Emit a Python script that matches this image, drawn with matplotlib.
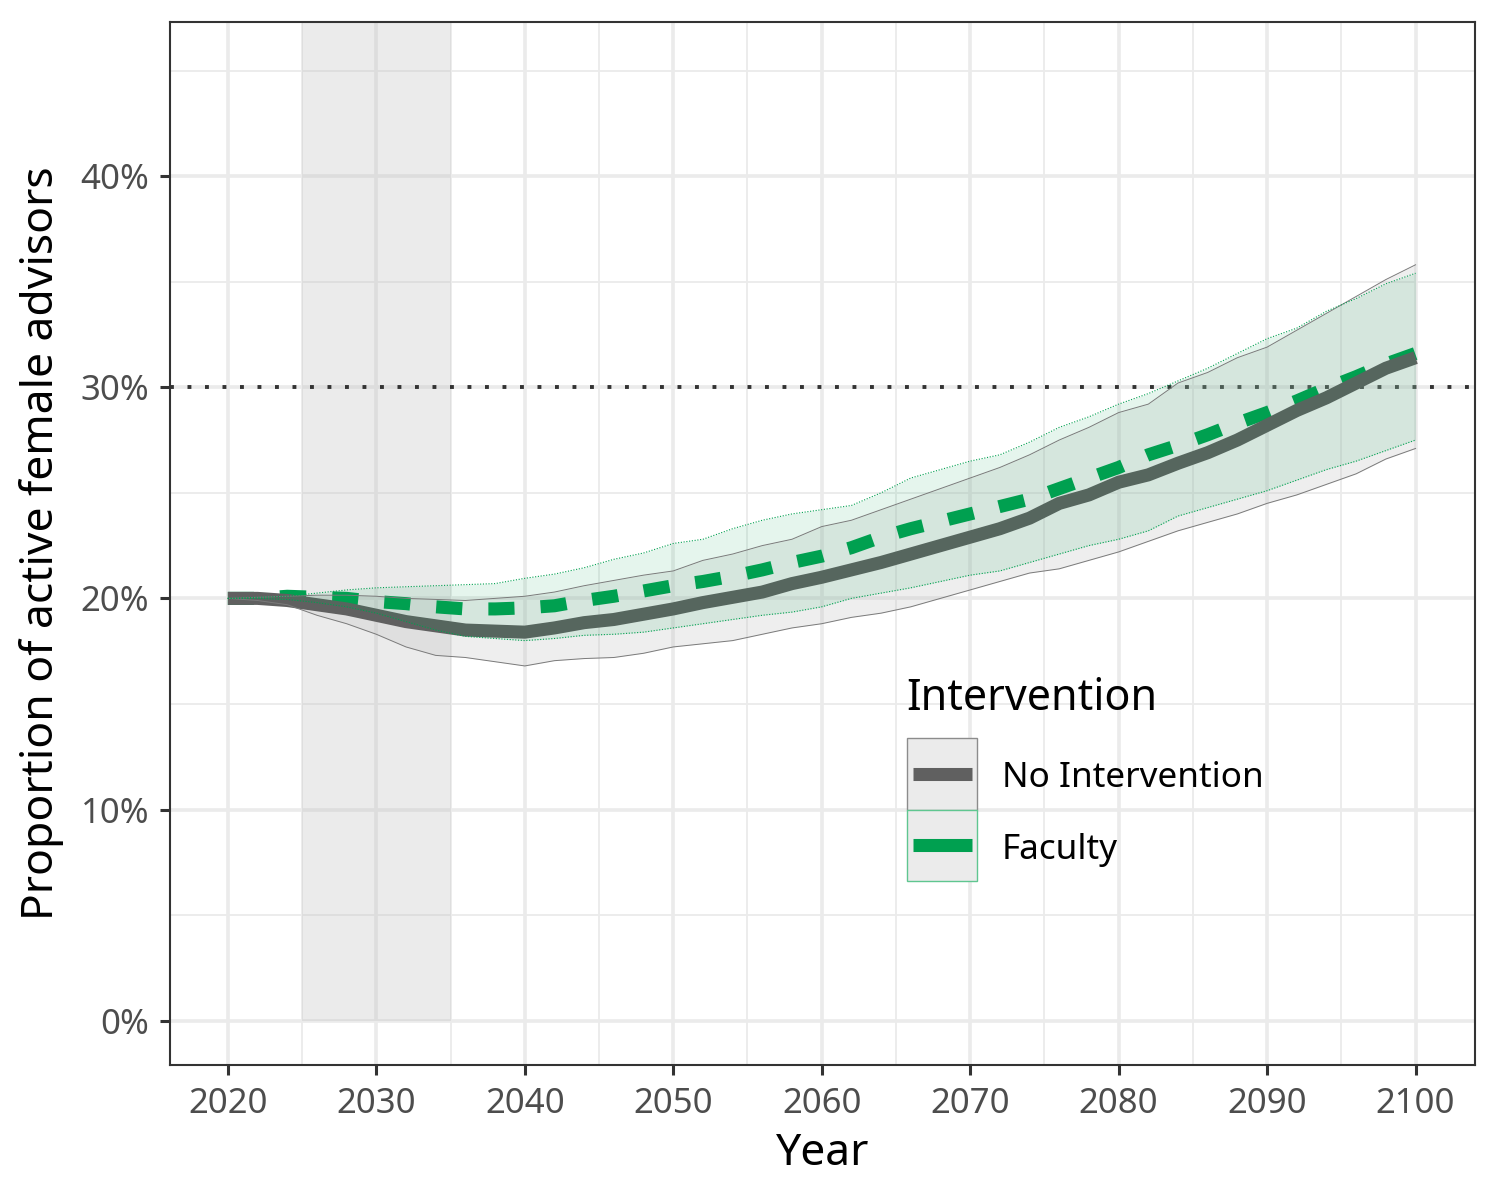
import matplotlib
matplotlib.use("Agg")
import matplotlib.pyplot as plt
from matplotlib.patches import Rectangle
from matplotlib.ticker import FuncFormatter, MultipleLocator

plt.rcParams['font.family'] = ['Noto Sans', 'DejaVu Sans']

# values, in percent, every two years
years = list(range(2020, 2101, 2))

none_mean = [20.0, 20.0, 19.9, 19.7, 19.5, 19.2, 18.9, 18.7, 18.5, 18.45, 18.4,
             18.6, 18.85, 19.0, 19.25, 19.5, 19.8, 20.05, 20.3, 20.7, 21.0,
             21.35, 21.7, 22.1, 22.5, 22.9, 23.3, 23.8, 24.5, 24.9, 25.5,
             25.85, 26.4, 26.9, 27.5, 28.2, 28.9, 29.5, 30.2, 30.9, 31.4]
none_hi = [20.0, 20.05, 20.1, 20.15, 20.15, 20.1, 20.0, 19.95, 19.9, 20.0, 20.1,
           20.3, 20.6, 20.85, 21.1, 21.3, 21.8, 22.1, 22.5, 22.8, 23.4,
           23.7, 24.2, 24.7, 25.2, 25.7, 26.2, 26.8, 27.5, 28.1, 28.8,
           29.2, 30.2, 30.7, 31.4, 31.9, 32.7, 33.5, 34.3, 35.1, 35.8]
none_lo = [20.0, 19.9, 19.7, 19.2, 18.8, 18.3, 17.7, 17.3, 17.2, 17.0, 16.8,
           17.05, 17.15, 17.2, 17.4, 17.7, 17.85, 18.0, 18.3, 18.6, 18.8,
           19.1, 19.3, 19.6, 20.0, 20.4, 20.8, 21.2, 21.4, 21.8, 22.2,
           22.7, 23.2, 23.6, 24.0, 24.5, 24.9, 25.4, 25.9, 26.6, 27.1]

fac_mean = [20.0, 20.0, 20.1, 20.05, 20.0, 19.85, 19.75, 19.6, 19.5, 19.5, 19.55,
            19.65, 19.9, 20.1, 20.35, 20.6, 20.8, 21.05, 21.35, 21.7, 22.0,
            22.4, 22.9, 23.3, 23.65, 24.0, 24.35, 24.7, 25.2, 25.7, 26.2,
            26.8, 27.25, 27.75, 28.3, 28.8, 29.35, 29.95, 30.5, 31.1, 31.6]
fac_hi = [20.0, 20.05, 20.1, 20.25, 20.4, 20.5, 20.55, 20.6, 20.65, 20.7, 20.95,
          21.15, 21.45, 21.85, 22.15, 22.6, 22.8, 23.3, 23.7, 24.0, 24.2,
          24.4, 25.0, 25.7, 26.1, 26.5, 26.8, 27.4, 28.1, 28.6, 29.2,
          29.7, 30.3, 30.9, 31.6, 32.3, 32.8, 33.6, 34.2, 34.9, 35.4]
fac_lo = [20.0, 20.0, 19.95, 19.8, 19.6, 19.3, 18.9, 18.5, 18.2, 18.1, 18.0,
          18.1, 18.25, 18.3, 18.4, 18.6, 18.8, 19.0, 19.2, 19.35, 19.6,
          20.0, 20.25, 20.5, 20.8, 21.1, 21.3, 21.7, 22.1, 22.5, 22.8,
          23.2, 23.9, 24.3, 24.7, 25.1, 25.6, 26.1, 26.5, 27.0, 27.5]

target = 30
window = (2025, 2035)
labels = ["No Intervention", "Faculty"]

grey_line = "#606060"
green = "#00a050"

fig = plt.figure(figsize=(15, 12), dpi=100)
ax = fig.add_axes([0.1133, 0.1125, 0.87, 0.8692])

ax.set_xlim(2016.1, 2104.0)
ax.set_ylim(-2.1, 47.3)

ax.xaxis.set_major_locator(MultipleLocator(10))
ax.xaxis.set_minor_locator(MultipleLocator(5))
ax.yaxis.set_major_locator(MultipleLocator(10))
ax.yaxis.set_minor_locator(MultipleLocator(5))
ax.yaxis.set_major_formatter(FuncFormatter(lambda v, p: f"{v:.0f}%"))

ax.grid(which="major", color="#ebebeb", linewidth=2.6, zorder=0)
ax.grid(which="minor", color="#ebebeb", linewidth=1.3, zorder=0)
ax.set_axisbelow(True)

ax.tick_params(which="major", length=7, width=2.2, color="#333333",
               labelsize=25, labelcolor="#4d4d4d", pad=9)
ax.tick_params(axis="y", pad=8)
ax.tick_params(which="minor", length=0)
for s in ax.spines.values():
    s.set_color("#333333")
    s.set_linewidth(1.5)

# intervention window
ax.fill_between(window, 0, 47.3, color="#bebebe", alpha=0.3, linewidth=0, zorder=1)

ax.axhline(target, color="#333333", linewidth=2.8, linestyle=(0, (1, 3.5)), zorder=2)

ax.fill_between(years, none_lo, none_hi, color="#bebebe", alpha=0.25,
                linewidth=0, zorder=2)
ax.plot(years, fac_mean, color=green, linewidth=9.4, dashes=(2, 2),
        dash_capstyle="butt", zorder=3)
ax.plot(years, none_mean, color=grey_line, linewidth=9.4,
        solid_capstyle="butt", zorder=4)
ax.fill_between(years, fac_lo, fac_hi, color=green, alpha=0.1,
                linewidth=0, zorder=5)

ax.plot(years, none_hi, color="#7a7a7a", linewidth=0.7, zorder=6)
ax.plot(years, none_lo, color="#7a7a7a", linewidth=0.7, zorder=6)
ax.plot(years, fac_hi, color=green, linewidth=0.8, linestyle=(0, (1, 1.5)), zorder=6)
ax.plot(years, fac_lo, color=green, linewidth=0.8, linestyle=(0, (1, 1.5)), zorder=6)

ax.set_xlabel("Year", fontsize=32, labelpad=8)
ax.set_ylabel("Proportion of active female advisors", fontsize=32, labelpad=12)

# legend drawn by hand, ggplot style keys (axes fractions)
ax.text(0.564, 0.3404, "Intervention", transform=ax.transAxes,
        fontsize=31, va="baseline", ha="left", zorder=10)
keys = [(grey_line, "#8c8c8c", 0.2445, 0.0690),
        (green, "#5fc690", 0.1764, 0.0681)]
for (lc, ec, y0, h), lab in zip(keys, labels):
    ax.add_patch(Rectangle((0.5648, y0), 0.05364, h, transform=ax.transAxes,
                           facecolor="#ebebeb", edgecolor=ec, linewidth=1.0,
                           clip_on=False, zorder=10))
    ax.plot([0.5694, 0.6146], [y0 + h / 2, y0 + h / 2], transform=ax.transAxes,
            color=lc, linewidth=9.4, solid_capstyle="butt", zorder=11)
    ax.text(0.6375, y0 + h / 2 - 0.004, lab, transform=ax.transAxes,
            fontsize=25.3, va="center", ha="left", zorder=10)

fig.savefig("out.png", dpi=100)
